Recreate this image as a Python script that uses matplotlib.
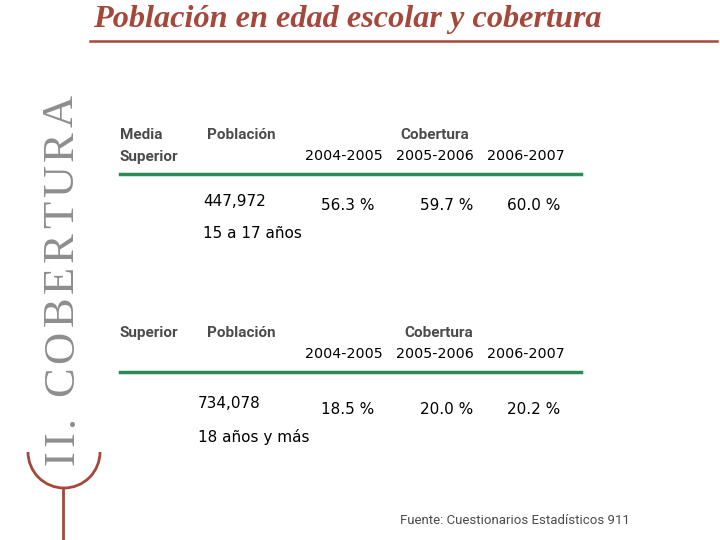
import matplotlib
matplotlib.use("Agg")
import matplotlib.pyplot as plt
from matplotlib.patches import Arc
from matplotlib.lines import Line2D

W, H = 720, 540

title = "Población en edad escolar y cobertura"
section = "II. COBERTURA"
source = "Fuente: Cuestionarios Estadísticos 911"

levels = ["Media\nSuperior", "Superior"]
populations = ["447,972", "734,078"]
age_groups = ["15 a 17 años", "18 años y más"]
years = ["2004-2005", "2005-2006", "2006-2007"]
coverage = [[56.3, 59.7, 60.0], [18.5, 20.0, 20.2]]

red = "#a5473a"
gray = "#8e8e8e"
dark = "#4b4b4b"
green = "#2b8a57"
narrow = "Roboto"


def fx(x):
    return x / W


def fy(y):
    return 1 - y / H


fig = plt.figure(figsize=(7.2, 5.4), dpi=100)
fig.patch.set_facecolor("white")

# title and red rule
fig.text(fx(93), fy(20), title, family="Liberation Serif", style="italic",
         weight="bold", fontsize=23.2, color=red, va="center", ha="left")
fig.add_artist(Line2D([fx(90), fx(717)], [fy(41), fy(41)], color=red, lw=1.8))

# side label, letter-spaced along the left edge (bottom to top)
renderer = fig.canvas.get_renderer()
chars = []
total = 0
for c in section:
    t = fig.text(0, 0, c, family="Liberation Serif", fontsize=32, color=gray,
                 rotation=90, va="center", ha="center")
    w = t.get_window_extent(renderer).height if c != " " else 12
    chars.append((t, w))
    total += w
track = (370 - total) / (len(section) - 1)
ypos = 465
for t, w in chars:
    t.set_position((fx(62), fy(ypos - w / 2)))
    ypos -= w + track

ax = fig.add_axes([0, 0, 1, 1])
ax.set_xlim(0, W)
ax.set_ylim(H, 0)
ax.axis("off")
ax.add_patch(Arc((64, 452), 72, 72, theta1=0, theta2=180, color=red, lw=2))
ax.plot([63, 63], [488, 540], color=red, lw=2)

# two blocks of the table
tops = [135, 333]
year_x = [344, 435, 526]
val_x = [348, 447, 534]
for i in range(len(levels)):
    t = tops[i]
    for k, part in enumerate(levels[i].split("\n")):
        fig.text(fx(120), fy(t + 22 * k), part, family=narrow, weight="bold",
                 fontsize=11, color=dark, va="center")
    fig.text(fx(207), fy(t), "Población", family=narrow, weight="bold",
             fontsize=11, color=dark, va="center")
    fig.text(fx(435 + 4 * i), fy(t), "Cobertura", family=narrow, weight="bold",
             fontsize=11, color=dark, va="center", ha="center")
    for j, yr in enumerate(years):
        fig.text(fx(year_x[j]), fy(t + 21), yr, family="DejaVu Sans",
                 fontsize=10.3, color="black", va="center", ha="center")
    fig.add_artist(Line2D([fx(120), fx(581)], [fy(t + 39), fy(t + 39)],
                          color=green, lw=2.5))
    px = 203 - 5 * i
    fig.text(fx(px), fy(t + 67 + 3 * i), populations[i], family="DejaVu Sans",
             fontsize=11, color="black", va="center")
    fig.text(fx(px), fy(t + 98 + 6 * i), age_groups[i], family="DejaVu Sans",
             fontsize=11, color="black", va="center")
    for j, v in enumerate(coverage[i]):
        fig.text(fx(val_x[j]), fy(t + 71 + 5 * i), "%.1f %%" % v,
                 family="DejaVu Sans", fontsize=11, color="black",
                 va="center", ha="center")

fig.text(fx(400), fy(521), source, family=narrow, fontsize=9.5, color=dark,
         va="center")

fig.savefig("out.png", dpi=100, facecolor="white")
